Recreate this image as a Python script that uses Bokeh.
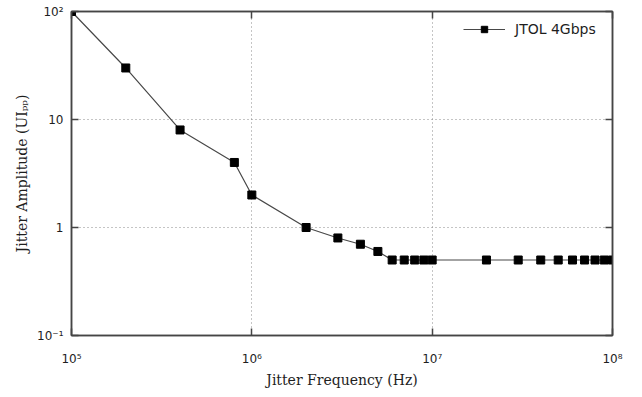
from bokeh.plotting import figure
from bokeh.models import Range1d, FixedTicker, LogAxis, Legend, LegendItem
from bokeh.embed import file_html
from bokeh.resources import INLINE

# ---- data ----
freq_hz = [1e5, 2e5, 4e5, 8e5, 1e6, 2e6, 3e6, 4e6, 5e6, 6e6, 7e6, 8e6, 9e6, 1e7,
           2e7, 3e7, 4e7, 5e7, 6e7, 7e7, 8e7, 9e7, 1e8]
amp_uipp = [100, 30, 8, 4, 2, 1, 0.8, 0.7, 0.6, 0.5, 0.5, 0.5, 0.5, 0.5,
            0.5, 0.5, 0.5, 0.5, 0.5, 0.5, 0.5, 0.5, 0.5]
series_name = "JTOL 4Gbps"

x_ticks = [1e5, 1e6, 1e7, 1e8]
x_tick_labels = ["10\u2075", "10\u2076", "10\u2077", "10\u2078"]
y_ticks = [0.1, 1, 10, 100]
y_tick_labels = ["10\u207b\u00b9", "1", "10", "10\u00b2"]
x_title = "Jitter Frequency (Hz)"
y_title = "Jitter Amplitude (UI\u209a\u209a)"

# ---- style ----
AX = "#454545"
TXT = "#1e1e1e"
TICK_FONT = "DejaVu Sans"
LABEL_FONT = "DejaVu Serif"
W, H = 640, 396
L, R, T, B = 71, 28, 11, 61

p = figure(width=W, height=H, x_axis_type="log", y_axis_type="log",
           x_range=Range1d(x_ticks[0], x_ticks[-1]), y_range=Range1d(y_ticks[0], y_ticks[-1]),
           output_backend="svg", toolbar_location=None,
           min_border_left=L, min_border_right=R, min_border_top=T, min_border_bottom=B)
p.background_fill_color = "white"
p.border_fill_color = "white"
p.outline_line_color = AX
p.outline_line_width = 1.5


def style(ax, ticks, labels, show):
    ax.ticker = FixedTicker(ticks=ticks)
    ax.axis_line_color = AX
    ax.axis_line_width = 1.5
    ax.major_tick_line_color = AX
    ax.major_tick_line_width = 1.5
    ax.major_tick_in = 7
    ax.major_tick_out = 0
    ax.minor_tick_line_color = None
    ax.major_label_text_font = TICK_FONT
    ax.major_label_text_font_size = "12px"
    ax.major_label_text_color = TXT
    if show:
        ax.major_label_overrides = dict(zip(ticks, labels))
    else:
        ax.major_label_overrides = {t: "" for t in ticks}
        ax.major_label_text_font_size = "0px"
        ax.major_label_standoff = 0


xa = p.xaxis[0]
ya = p.yaxis[0]
style(xa, x_ticks, x_tick_labels, True)
style(ya, y_ticks, y_tick_labels, True)
xa.major_label_standoff = 16
ya.major_label_standoff = 8
xa.axis_label = x_title
ya.axis_label = y_title
for ax in (xa, ya):
    ax.axis_label_text_font = LABEL_FONT
    ax.axis_label_text_font_size = "14px"
    ax.axis_label_text_font_style = "normal"
    ax.axis_label_text_color = TXT
xa.axis_label_standoff = 3
ya.axis_label_standoff = 4

top = LogAxis()
right = LogAxis()
style(top, x_ticks, x_tick_labels, False)
style(right, y_ticks, y_tick_labels, False)
p.add_layout(top, "above")
p.add_layout(right, "right")

p.xgrid.ticker = FixedTicker(ticks=x_ticks)
p.ygrid.ticker = FixedTicker(ticks=y_ticks)
for g in (p.xgrid, p.ygrid):
    g.grid_line_color = "#8a8a8a"
    g.grid_line_dash = "1 3"
    g.grid_line_width = 1
    g.minor_grid_line_color = None

ln = p.line(freq_hz, amp_uipp, line_color="#484848", line_width=1.2)
mk = p.scatter(freq_hz, amp_uipp, marker="square", size=8, fill_color="black", line_color="black")

legend = Legend(items=[LegendItem(label=series_name, renderers=[ln, mk])],
                location=(W - L - R - 17 - 132, H - T - B - 26),
                border_line_color=None, background_fill_alpha=0,
                padding=0, margin=0, glyph_width=42, glyph_height=16, label_height=16,
                label_standoff=10, label_text_font=TICK_FONT, label_text_font_size="14px",
                label_text_color=TXT)
p.add_layout(legend)

open("out.html", "w").write(file_html(p, INLINE))
